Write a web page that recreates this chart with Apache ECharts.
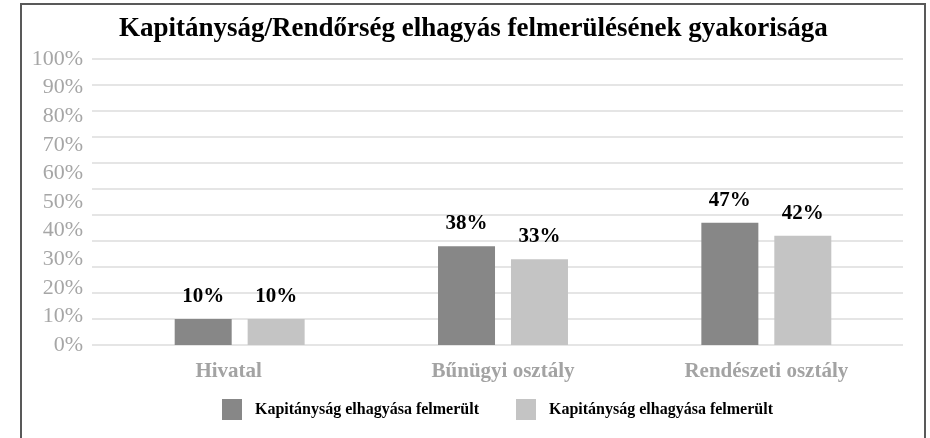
<!DOCTYPE html>
<html>
<head>
<meta charset="utf-8">
<script src="https://cdn.jsdelivr.net/npm/echarts@6/dist/echarts.min.js"></script>
<style>
html, body { margin: 0; padding: 0; background: #fff; }
#main { width: 930px; height: 438px; }
</style>
</head>
<body>
<div id="main"></div>
<script>
// adatok
var kategoriak = ['Hivatal', 'Bűnügyi osztály', 'Rendészeti osztály'];
var sorozatNevek = ['Kapitányság elhagyása felmerült', 'Kapitányság elhagyása felmerült'];
var sorozat1 = [10, 38, 47];
var sorozat2 = [10, 33, 42];
var tengelyMax = 100;   // a feliratok skálája
var racsMax = 110;      // a rácsvonalak skálája (eltolódott az eredetiben)
var lepes = 10;

var serif = "'Liberation Serif', 'Times New Roman', serif";

var myecharts = echarts.init(document.getElementById('main'));
var option = {
    backgroundColor: '#fff',
    animation: false,
    title: {
        text: 'Kapitányság/Rendőrség elhagyás felmerülésének gyakorisága',
        left: 119,
        top: 16,
        padding: 0,
        textStyle: { fontFamily: serif, fontSize: 27, fontWeight: 'bold', color: '#000' }
    },
    graphic: [{
        type: 'rect',
        shape: { x: 21, y: 4, width: 904, height: 450 },
        style: { fill: 'none', stroke: '#595959', lineWidth: 2 },
        silent: true
    }],
    legend: {
        data: [
            { name: 'a', icon: 'rect' },
            { name: 'b', icon: 'rect' }
        ],
        formatter: function (n) { return n === 'a' ? sorozatNevek[0] : sorozatNevek[1]; },
        left: 222,
        top: 399,
        padding: 0,
        itemWidth: 20,
        itemHeight: 21,
        itemGap: 37,
        textStyle: { fontFamily: serif, fontSize: 16, fontWeight: 'bold', color: '#000', padding: [0, 0, 0, 8] }
    },
    grid: [
        { left: 92, right: 27, top: 59, bottom: 93 },
        { left: 108, right: 32, top: 59, bottom: 93 }
    ],
    xAxis: [
        { gridIndex: 0, type: 'value', min: 0, max: 1, show: false },
        {
            gridIndex: 1,
            type: 'category',
            data: kategoriak,
            axisLine: { show: false },
            axisTick: { show: false },
            axisLabel: {
                margin: 16, fontFamily: serif, fontSize: 21, fontWeight: 'bold', color: '#a3a3a3',
                formatter: function (v, i) { return i === 0 ? '{h|' + v + '}' : v; },
                rich: { h: { fontFamily: serif, fontSize: 21, fontWeight: 'bold', color: '#a3a3a3', padding: [0, 22, 0, 0] } }
            }
        }
    ],
    yAxis: [
        {
            gridIndex: 0, type: 'value', min: 0, max: racsMax, interval: lepes,
            axisLabel: { show: false }, axisLine: { show: false }, axisTick: { show: false },
            splitLine: { show: true, lineStyle: { color: '#dcdcdc', width: 1.5 } }
        },
        {
            gridIndex: 0, type: 'value', min: 0, max: tengelyMax, interval: lepes, position: 'left',
            axisLine: { show: false }, axisTick: { show: false }, splitLine: { show: false },
            axisLabel: { formatter: '{value}%', margin: 9, fontFamily: serif, fontSize: 22, color: '#a6a6a6' }
        },
        { gridIndex: 1, type: 'value', min: 0, max: racsMax, interval: lepes, show: false }
    ],
    series: [
        {
            name: 'a', type: 'bar', xAxisIndex: 1, yAxisIndex: 2,
            data: sorozat1, barWidth: 57, barGap: '28%',
            itemStyle: { color: '#878787' },
            label: { show: true, position: 'top', distance: 12, formatter: '{c}%', fontFamily: serif, fontSize: 21, fontWeight: 'bold', color: '#000' }
        },
        {
            name: 'b', type: 'bar', xAxisIndex: 1, yAxisIndex: 2,
            data: sorozat2, barWidth: 57, barGap: '28%',
            itemStyle: { color: '#c4c4c4' },
            label: { show: true, position: 'top', distance: 12, formatter: '{c}%', fontFamily: serif, fontSize: 21, fontWeight: 'bold', color: '#000' }
        }
    ]
};
myecharts.setOption(option);
</script>
</body>
</html>
